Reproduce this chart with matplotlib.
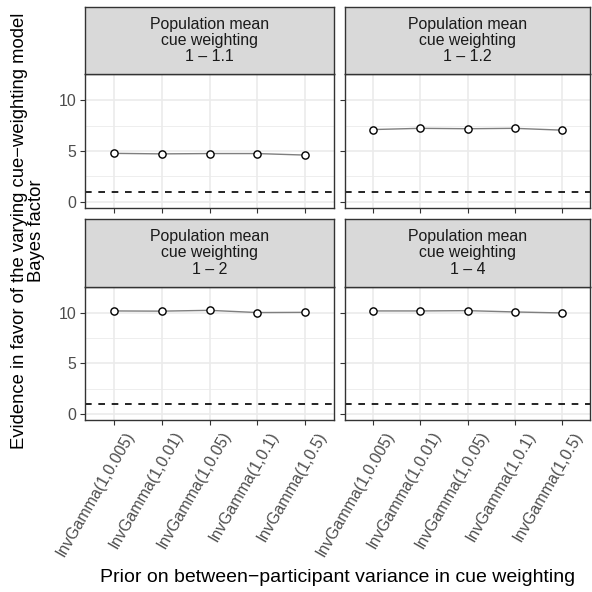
import matplotlib
matplotlib.use("Agg")
import matplotlib.pyplot as plt
import matplotlib.transforms as mtransforms

plt.rcParams['font.family'] = ['Liberation Sans', 'DejaVu Sans']

# data
priors = ["InvGamma(1,0.005)", "InvGamma(1,0.01)", "InvGamma(1,0.05)",
          "InvGamma(1,0.1)", "InvGamma(1,0.5)"]
panel_titles = ["Population mean\ncue weighting\n1 \u2013 1.1",
                "Population mean\ncue weighting\n1 \u2013 1.2",
                "Population mean\ncue weighting\n1 \u2013 2",
                "Population mean\ncue weighting\n1 \u2013 4"]
bf_11 = [4.77, 4.72, 4.75, 4.75, 4.60]
bf_12 = [7.12, 7.24, 7.20, 7.24, 7.06]
bf_2 = [10.22, 10.20, 10.28, 10.06, 10.08]
bf_4 = [10.22, 10.22, 10.25, 10.12, 10.02]
bayes_factors = [bf_11, bf_12, bf_2, bf_4]
threshold = 1

W = H = 592.0
fig = plt.figure(figsize=(5.92, 5.92), dpi=100)

# panel boxes in pixels: (left, right) and (strip_top, strip_bottom, plot_bottom)
cols = [(85, 334), (345, 590)]
rows = [(7, 74, 208), (219, 287, 420)]

grey20 = '#333333'
small = 11.4
x = list(range(1, len(priors) + 1))

for i, vals in enumerate(bayes_factors):
    r, c = divmod(i, 2)
    left, right = cols[c]
    st, sb, pb = rows[r]
    ax = fig.add_axes([left / W, 1 - pb / H, (right - left) / W, (pb - sb) / H])
    sax = fig.add_axes([left / W, 1 - sb / H, (right - left) / W, (sb - st) / H])

    # strip
    sax.set_facecolor('#d9d9d9')
    sax.set_xticks([])
    sax.set_yticks([])
    for sp in sax.spines.values():
        sp.set_color(grey20)
        sp.set_linewidth(1.0)
    sax.text(0.5, 0.5, panel_titles[i], ha='center', va='center',
             fontsize=small, color='#1a1a1a', linespacing=1.12,
             transform=sax.transAxes)

    # panel
    ax.set_xlim(0.4, 5.6)
    ax.set_ylim(-0.62, 12.6)
    ax.set_yticks([0, 5, 10])
    ax.set_yticks([2.5, 7.5], minor=True)
    ax.set_xticks(x)
    ax.grid(which='major', color='#ebebeb', linewidth=1.2)
    ax.grid(which='minor', axis='y', color='#ebebeb', linewidth=0.6)
    ax.set_axisbelow(True)
    ax.tick_params(which='minor', length=0)
    ax.tick_params(which='major', length=3.6, width=0.8, color=grey20,
                   labelcolor='#4d4d4d', labelsize=small, pad=2.5)
    ax.tick_params(axis='x', pad=0)
    for sp in ax.spines.values():
        sp.set_color(grey20)
        sp.set_linewidth(1.0)

    ax.axhline(threshold, color='black', linewidth=1.2, linestyle=(0, (4, 4)))
    ax.plot(x, vals, color='#7f7f7f', linewidth=1.0, zorder=3)
    ax.plot(x, vals, linestyle='none', marker='o', markersize=5.2,
            markerfacecolor='white', markeredgecolor='black',
            markeredgewidth=1.0, zorder=4)

    if c == 1:
        ax.set_yticklabels([])
    if r == 0:
        ax.set_xticklabels([])
    else:
        ax.set_xticklabels(priors, rotation=60, ha='right', va='top',
                           rotation_mode='anchor')
        offset = mtransforms.ScaledTranslation(0.11, -0.04, fig.dpi_scale_trans)
        for lab in ax.get_xticklabels():
            lab.set_transform(lab.get_transform() + offset)

fig.text(337.5 / W, 1 - 578 / H,
         "Prior on between\u2212participant variance in cue weighting",
         ha='center', va='center', fontsize=14)
fig.text(28 / W, 1 - 231 / H,
         "Evidence in favor of the varying cue\u2212weighting model\nBayes factor",
         ha='center', va='center', rotation=90, fontsize=13.3, linespacing=0.95)

fig.savefig("out.png", dpi=100)
